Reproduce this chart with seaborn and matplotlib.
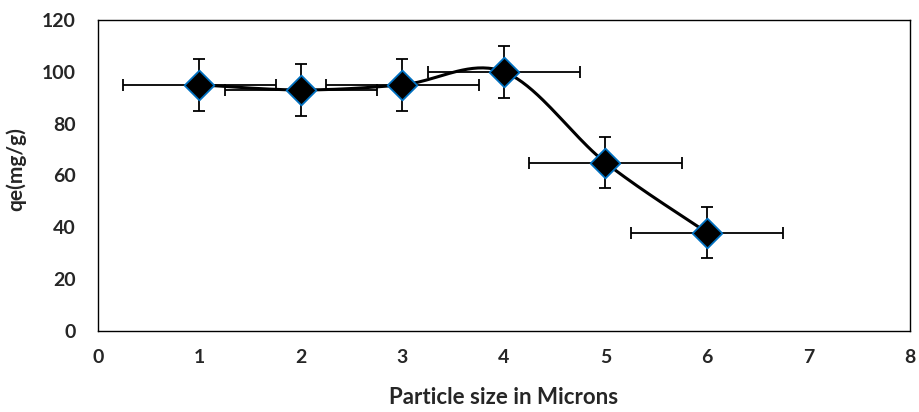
import numpy as np
import pandas as pd
import matplotlib
matplotlib.use("Agg")
import matplotlib.pyplot as plt
import seaborn as sns

# Measured adsorption capacity versus particle size
particle_size = [1, 2, 3, 4, 5, 6]
qe = [95, 93, 95, 100, 65, 38]
qe_err = [10, 10, 10, 10, 10, 10]
size_err = [0.75, 0.75, 0.75, 0.75, 0.75, 0.75]
x_ticks = [0, 1, 2, 3, 4, 5, 6, 7, 8]
y_ticks = [0, 20, 40, 60, 80, 100, 120]

df = pd.DataFrame({"size": particle_size, "qe": qe})

sns.set_theme(style="white")
plt.rcParams["font.family"] = ["Lato", "DejaVu Sans"]
plt.rcParams["font.weight"] = "bold"


def smooth_curve(x, y, n=40):
    """Bezier smoothing through every point (Catmull-Rom style tangents)."""
    x = np.asarray(x, float)
    y = np.asarray(y, float)
    px = np.concatenate([[x[0]], x, [x[-1]]])
    py = np.concatenate([[y[0]], y, [y[-1]]])
    xs, ys = [], []
    t = np.linspace(0, 1, n)
    for i in range(1, len(px) - 2):
        p0 = np.array([px[i - 1], py[i - 1]])
        p1 = np.array([px[i], py[i]])
        p2 = np.array([px[i + 1], py[i + 1]])
        p3 = np.array([px[i + 2], py[i + 2]])
        c1 = p1 + (p2 - p0) / 6.0
        c2 = p2 - (p3 - p1) / 6.0
        b = ((1 - t) ** 3)[:, None] * p1 + (3 * (1 - t) ** 2 * t)[:, None] * c1 \
            + (3 * (1 - t) * t ** 2)[:, None] * c2 + (t ** 3)[:, None] * p2
        xs.append(b[:, 0])
        ys.append(b[:, 1])
    return np.concatenate(xs), np.concatenate(ys)


fig = plt.figure(figsize=(9.19, 4.12), dpi=100)
ax = fig.add_axes([0.1066, 0.1966, 0.8835, 0.7549])

ax.errorbar(particle_size, qe, yerr=qe_err, xerr=size_err, fmt="none",
            ecolor="black", elinewidth=1.3, capsize=4, capthick=1.3, zorder=2)

cx, cy = smooth_curve(particle_size, qe)
ax.plot(cx, cy, color="black", linewidth=2.2, zorder=3)

sns.scatterplot(data=df, x="size", y="qe", marker="D", s=230, color="black",
                edgecolor="#0070C0", linewidth=1.3, zorder=4, ax=ax, legend=False)

ax.set_xlim(0, 8)
ax.set_ylim(0, 120)
ax.set_xticks(x_ticks)
ax.set_yticks(y_ticks)
ax.set_xticklabels([str(v) for v in x_ticks], fontsize=14, fontweight="bold")
ax.set_yticklabels([str(v) for v in y_ticks], fontsize=14, fontweight="bold")
ax.tick_params(axis="x", length=0, pad=13)
ax.tick_params(axis="y", length=0, pad=16)

ax.set_xlabel("Particle size in Microns", fontsize=16, fontweight="bold")
ax.set_ylabel("qe(mg/g)", fontsize=15, fontweight="bold")
ax.xaxis.set_label_coords(0.5, -0.18)
ax.yaxis.set_label_coords(-0.088, 0.52)

for side in ["left", "right", "top", "bottom"]:
    ax.spines[side].set_visible(True)
    ax.spines[side].set_color("black")
    ax.spines[side].set_linewidth(1.0)

ax.grid(False)
fig.savefig("out.png", dpi=100, facecolor="white")
